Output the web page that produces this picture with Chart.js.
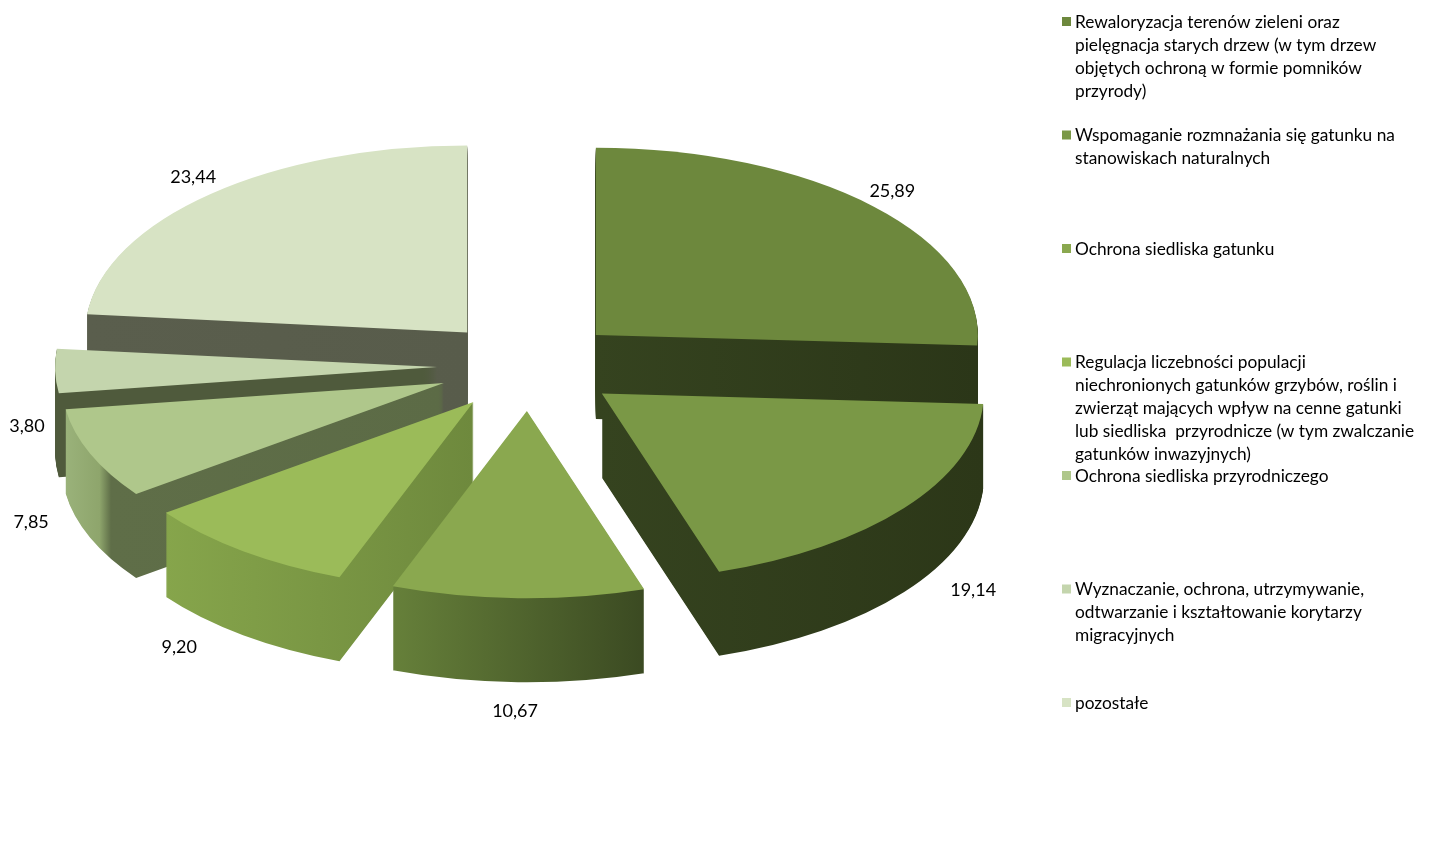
<!DOCTYPE html>
<html>
<head>
<meta charset="utf-8">
<script src="https://cdn.jsdelivr.net/npm/chart.js@4"></script>
<style>
  body { margin: 0; background: #fff; }
  #wrap { width: 1431px; height: 853px; }
</style>
</head>
<body>
<div id="wrap"><canvas id="chart" width="1431" height="853"></canvas></div>
<script>
// categories (legend text, line breaks as in the original)
const categories = [
  "Rewaloryzacja terenów zieleni oraz\npielęgnacja starych drzew (w tym drzew\nobjętych ochroną w formie pomników\nprzyrody)",
  "Wspomaganie rozmnażania się gatunku na\nstanowiskach naturalnych",
  "Ochrona siedliska gatunku",
  "Regulacja liczebności populacji\nniechronionych gatunków grzybów, roślin i\nzwierząt mających wpływ na cenne gatunki\nlub siedliska  przyrodnicze (w tym zwalczanie\ngatunków inwazyjnych)",
  "Ochrona siedliska przyrodniczego",
  "Wyznaczanie, ochrona, utrzymywanie,\nodtwarzanie i kształtowanie korytarzy\nmigracyjnych",
  "pozostałe"
];
// share of each category, %
const values = [25.89, 19.14, 10.67, 9.20, 7.85, 3.80, 23.44];

// top face colours
const topColors = ["#6d883d", "#7a9846", "#8aa84f", "#9bbb59", "#afc78b", "#c4d5ad", "#d7e3c4"];
// side colours, left -> right stops
const wallStops = [
  [[0, "#35431f"], [1, "#2b3618"]],
  [[0, "#35431f"], [1, "#2c3718"]],
  [[0, "#66803a"], [1, "#3b4a22"]],
  [[0, "#86a54b"], [1, "#6e893d"]],
  [[0, "#9ab27a"], [0.09, "#8ea56c"], [0.12, "#5f6e48"], [1, "#5c6b46"]],
  [[0, "#4f5a3c"], [1, "#4f5a3c"]],
  [[0, "#5a5e4d"], [1, "#585c4b"]]
];

const TILT = 0.49;     // vertical squash of the pie
const DEPTH = 84;      // thickness in px
const EXPLODE = 92;    // how far slices are pulled out

function drawArcWith(arc, fill, ctx) {
  const proxy = Object.create(arc);
  proxy.options = Object.assign({}, arc.options, { backgroundColor: fill, borderWidth: 0 });
  arc.draw.call(proxy, ctx);
}

function wallFill(ctx, arc, i) {
  let xmin = arc.x, xmax = arc.x;
  for (let t = 0; t <= 40; t++) {
    const a = arc.startAngle + (arc.endAngle - arc.startAngle) * t / 40;
    const x = arc.x + arc.outerRadius * Math.cos(a);
    xmin = Math.min(xmin, x);
    xmax = Math.max(xmax, x);
  }
  const g = ctx.createLinearGradient(xmin, 0, xmax, 0);
  wallStops[i].forEach(s => g.addColorStop(s[0], s[1]));
  return g;
}

const pie3d = {
  id: 'pie3d',
  beforeDatasetsDraw(chart) {
    const ctx = chart.ctx;
    const items = chart.getDatasetMeta(0).data.map((arc, i) => ({ arc, i, mid: (arc.startAngle + arc.endAngle) / 2 }));
    // back slices first
    items.sort((a, b) => Math.sin(a.mid) - Math.sin(b.mid));
    items.forEach(({ arc, i, mid }) => {
      const ex = Math.cos(mid) * EXPLODE, ey = Math.sin(mid) * EXPLODE;
      const wall = wallFill(ctx, arc, i);
      for (let k = DEPTH; k >= 0; k--) {
        ctx.save();
        ctx.translate(0, k);
        ctx.translate(arc.x, arc.y);
        ctx.scale(1, TILT);
        ctx.translate(-arc.x, -arc.y);
        ctx.translate(ex, ey);
        drawArcWith(arc, k === 0 ? topColors[i] : wall, ctx);
        ctx.restore();
      }
    });
    return false;
  },
  afterDraw(chart) {
    const ctx = chart.ctx;
    ctx.save();
    // value labels
    ctx.font = '18px Lato';
    ctx.fillStyle = '#000';
    ctx.textAlign = 'center';
    ctx.textBaseline = 'middle';
    chart.getDatasetMeta(0).data.forEach((arc, i) => {
      const mid = (arc.startAngle + arc.endAngle) / 2;
      const dx = Math.cos(mid), dy = Math.sin(mid);
      const down = Math.max(dy, 0);
      const x = arc.x + (500 + 100 * down) * dx;
      const y = arc.y + (495 + 70 * down) * dy * TILT * 1.05 + (dy > -0.2 ? 55 : 0);
      ctx.fillText(values[i].toFixed(2).replace('.', ','), x, y);
    });
    // legend
    ctx.textAlign = 'left';
    ctx.font = '17.3px Lato';
    categories.forEach((txt, i) => {
      const y0 = 22 + i * 113.5;
      ctx.fillStyle = topColors[i];
      ctx.fillRect(1062, y0 - 5, 9, 9);
      ctx.fillStyle = '#000';
      txt.split('\n').forEach((line, j) => ctx.fillText(line, 1075, y0 + j * 23));
    });
    ctx.restore();
  }
};

new Chart(document.getElementById('chart'), {
  type: 'pie',
  plugins: [pie3d],
  data: {
    labels: categories,
    datasets: [{
      data: values,
      backgroundColor: topColors,
      borderWidth: 0,
      radius: 382
    }]
  },
  options: {
    responsive: false,
    animation: false,
    layout: { padding: { left: 0, right: 373, top: 0, bottom: 121 } },
    plugins: { legend: { display: false }, tooltip: { enabled: false } }
  }
});
</script>
</body>
</html>
